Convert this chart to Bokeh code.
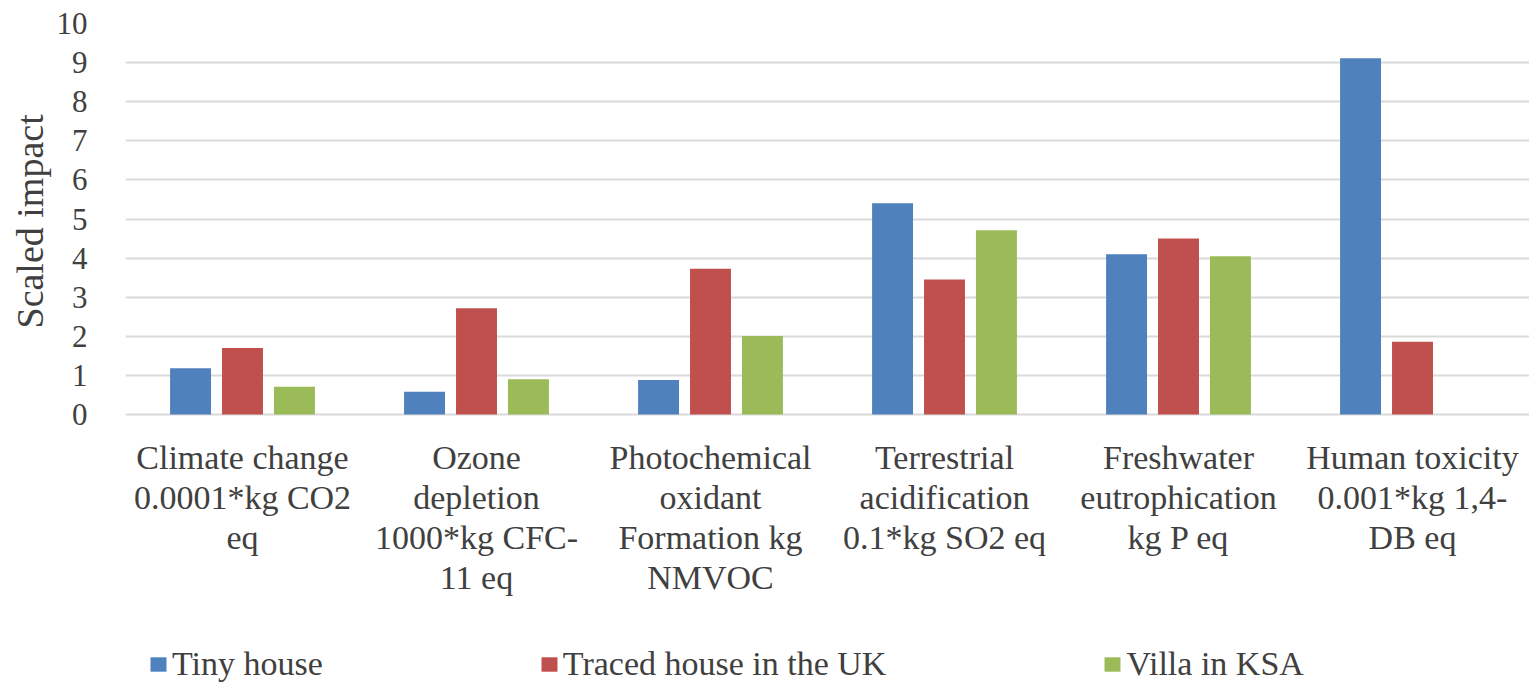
from bokeh.plotting import figure
from bokeh.models import (FactorRange, Range1d, Legend, LegendItem, ColumnDataSource,
                          FixedTicker, Title)
from bokeh.core.properties import value
from bokeh.transform import dodge
from bokeh.embed import file_html
from bokeh.resources import INLINE

categories = ["Climate change", "Ozone depletion", "Photochemical", "Terrestrial",
              "Freshwater", "Human toxicity"]
category_labels = [
    "Climate change\n0.0001*kg CO2\neq",
    "Ozone\ndepletion\n1000*kg CFC-\n11 eq",
    "Photochemical\noxidant\nFormation kg\nNMVOC",
    "Terrestrial\nacidification\n0.1*kg SO2 eq",
    "Freshwater\neutrophication\nkg P eq",
    "Human toxicity\n0.001*kg 1,4-\nDB eq",
]
series_names = ["Tiny house", "Traced house in the UK", "Villa in KSA"]
tiny_house = [1.18, 0.58, 0.88, 5.40, 4.10, 9.11]
traced_uk = [1.70, 2.72, 3.73, 3.45, 4.50, 1.86]
villa_ksa = [0.71, 0.90, 2.01, 4.71, 4.05, 0.0]
colors = ["#4F81BD", "#C0504D", "#9BBB59"]
y_ticks = list(range(0, 11))
y_title = "Scaled impact"

FONT = "Liberation Serif"
TXT = "#404040"

# plot layout (pixels)
FRAME_TOP = 23
ZERO_Y = 414
CANVAS_H = 684
PX_PER_UNIT = (ZERO_Y - FRAME_TOP) / 10.0
Y_MIN = -(CANVAS_H - ZERO_Y) / PX_PER_UNIT
LABEL_Y = -24 / PX_PER_UNIT

src = ColumnDataSource(dict(cat=categories, s0=tiny_house, s1=traced_uk, s2=villa_ksa,
                            label=category_labels))

p = figure(x_range=FactorRange(*categories, range_padding=0), y_range=Range1d(Y_MIN, 10),
           frame_width=1404, frame_height=CANVAS_H - FRAME_TOP, output_backend="svg",
           toolbar_location=None, x_axis_location=None,
           min_border_left=125, min_border_right=0, min_border_top=FRAME_TOP,
           min_border_bottom=0)
p.outline_line_color = None
p.background_fill_color = "white"
p.border_fill_color = "white"

offsets = [-0.222, 0.0, 0.222]
renderers = []
for i, (col, c) in enumerate(zip(["s0", "s1", "s2"], colors)):
    r = p.vbar(x=dodge("cat", offsets[i], range=p.x_range), top=col, bottom=0, width=0.175,
               source=src, fill_color=c, line_color=None)
    renderers.append(r)

# category labels below the zero line
p.text(x="cat", y=LABEL_Y, text="label", source=src, text_align="center",
       text_baseline="top", text_font=value(FONT), text_font_size="34px",
       text_color=TXT, text_line_height=1.09)

p.xgrid.grid_line_color = None
p.ygrid.grid_line_color = "#D9D9D9"
p.ygrid.grid_line_width = 2
p.ygrid.ticker = FixedTicker(ticks=y_ticks)

p.yaxis.ticker = FixedTicker(ticks=y_ticks)
p.yaxis.axis_line_color = None
p.yaxis.major_tick_line_color = None
p.yaxis.minor_tick_line_color = None
p.yaxis.major_label_text_font = FONT
p.yaxis.major_label_text_font_size = "31px"
p.yaxis.major_label_text_color = TXT
p.yaxis.major_label_standoff = 32

ytitle = Title(text=y_title, align="left", text_font=FONT, text_font_size="38px",
               text_font_style="normal", text_color=TXT, standoff=6,
               offset=CANVAS_H - 328)
p.add_layout(ytitle, "left")

legend = Legend(items=[LegendItem(label=n, renderers=[r]) for n, r in zip(series_names, renderers)],
                orientation="horizontal", location=(23, 1))
legend.label_text_font = FONT
legend.label_text_font_size = "34px"
legend.label_text_color = TXT
legend.glyph_width = 20
legend.glyph_height = 18
legend.label_standoff = 4
legend.spacing = 216
legend.padding = 0
legend.margin = 0
legend.border_line_color = None
legend.background_fill_alpha = 0
p.add_layout(legend, "center")

open("out.html", "w").write(file_html(p, INLINE))
